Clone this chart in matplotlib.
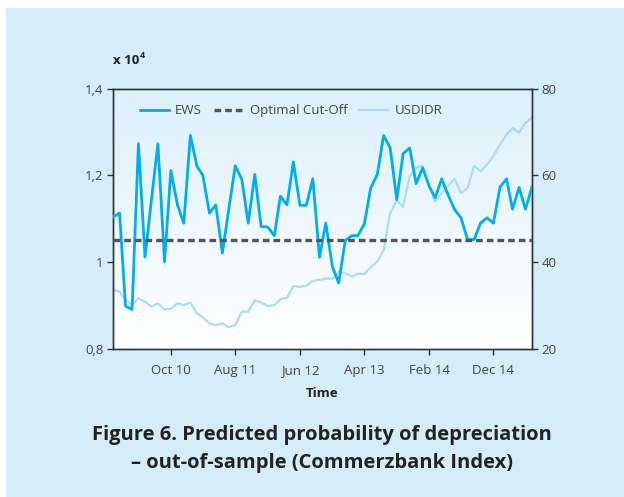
import numpy as np
import pandas as pd
import matplotlib
matplotlib.use("Agg")
import matplotlib.pyplot as plt
import matplotlib.dates as mdates
from matplotlib.patches import Rectangle
from matplotlib.colors import LinearSegmentedColormap

plt.rcParams['font.family'] = ['Open Sans', 'DejaVu Sans']

# monthly data, Jan 2010 - Jun 2015
months = pd.date_range("2010-01-01", "2015-06-01", freq="MS")

# EWS predicted probability (right axis, %)
ews = [50.4, 51.3, 29.9, 29.1, 67.3, 41.2, 54.2, 67.3, 40.1, 61.1,
       53.2, 49.0, 69.2, 62.1, 60.0, 51.3, 53.2, 42.1, 52.1, 62.2,
       59.0, 49.0, 60.2, 48.2, 48.1, 46.1, 55.2, 53.2, 63.1, 53.1,
       53.1, 59.2, 41.1, 49.0, 39.0, 35.2, 45.0, 46.1, 46.1, 48.8,
       57.1, 60.2, 69.2, 66.3, 54.4, 65.0, 66.3, 58.1, 61.7, 57.5,
       54.8, 59.2, 55.5, 52.1, 50.2, 45.2, 45.2, 49.0, 50.2, 49.0,
       57.3, 59.2, 52.2, 57.2, 52.2, 57.3]

# USD/IDR exchange rate (left axis, x 10^4)
usdidr = [0.936, 0.932, 0.913, 0.901, 0.917, 0.909, 0.898, 0.905, 0.891, 0.893,
          0.905, 0.901, 0.907, 0.882, 0.873, 0.859, 0.855, 0.859, 0.850, 0.855,
          0.886, 0.886, 0.912, 0.907, 0.899, 0.901, 0.915, 0.918, 0.945, 0.943,
          0.946, 0.957, 0.959, 0.962, 0.962, 0.978, 0.974, 0.967, 0.973, 0.973,
          0.988, 1.001, 1.028, 1.113, 1.142, 1.128, 1.198, 1.217, 1.222, 1.175,
          1.140, 1.159, 1.175, 1.192, 1.159, 1.171, 1.222, 1.209, 1.225, 1.244,
          1.271, 1.294, 1.309, 1.298, 1.321, 1.333]

cutoff = 45

left_ticks = [0.8, 1.0, 1.2, 1.4]
left_labels = ["0,8", "1", "1,2", "1,4"]
right_ticks = [20, 40, 60, 80]
tick_dates = pd.to_datetime(["2010-10-01", "2011-08-01", "2012-06-01",
                             "2013-04-01", "2014-02-01", "2014-12-01"])

panel = "#d5ecf9"
ink = "#444444"

fig = plt.figure(figsize=(6.24, 4.97), dpi=100)
fig.patch.set_facecolor("white")
fig.patches.append(Rectangle((6 / 624, 0), 1, 1 - 8 / 497, transform=fig.transFigure,
                             facecolor=panel, edgecolor="none", zorder=-10))

ax = fig.add_axes([113 / 624, 1 - 349 / 497, 419 / 624, 260.5 / 497])
ax.set_facecolor("none")

# gradient background of the plot area
grad = np.linspace(0, 1, 256).reshape(-1, 1)
cmap = LinearSegmentedColormap.from_list("bg", ["#ffffff", "#dcf0fb"])
ax.imshow(grad, cmap=cmap, aspect="auto", extent=[0, 1, 0, 1], origin="lower",
          transform=ax.transAxes, zorder=-5)

l3, = ax.plot(months, usdidr, color="#a9dcf5", lw=1.6, label="USDIDR", zorder=2)
ax.set_ylim(0.8, 1.4)
ax.set_yticks(left_ticks)
ax.set_yticklabels(left_labels)

ax2 = ax.twinx()
l1, = ax2.plot(months, ews, color="#00aeef", lw=2.0, label="EWS", zorder=3)
l2 = ax2.axhline(cutoff, color="#555555", lw=2.4, ls=(0, (2.0, 1.2)),
                 label="Optimal Cut-Off", zorder=4)
ax2.set_ylim(20, 80)
ax2.set_yticks(right_ticks)

ax.set_xlim(months[0], months[-1])
ax.set_xticks(tick_dates)
ax.xaxis.set_major_formatter(mdates.DateFormatter("%b %y"))
ax.set_xlabel("Time", fontsize=9.5, fontweight="bold", color="#222222", labelpad=7)

for a in (ax, ax2):
    for s in a.spines.values():
        s.set_color("#333333")
        s.set_linewidth(1.0)
    a.tick_params(direction="out", length=4, width=1.0, color="#333333",
                  labelcolor=ink, labelsize=9.5, pad=3)
ax.tick_params(axis="x", pad=7)

leg = ax2.legend(handles=[l1, l2, l3], loc="upper left", ncol=3, frameon=False,
                 fontsize=9.5, bbox_to_anchor=(0.035, 0.985), handlelength=2.2,
                 columnspacing=0.9, handletextpad=0.5, labelcolor=ink)

fig.text(113 / 624, 1 - 61 / 497, "x 10", fontsize=9.5, fontweight="bold",
         color="#222222", va="center")
fig.text(140 / 624, 1 - 55 / 497, "4", fontsize=6.5, fontweight="bold",
         color="#222222", va="center")

fig.text(322 / 624, 1 - 435 / 497, "Figure 6. Predicted probability of depreciation",
         fontsize=14.5, fontweight="bold", color="#222222", ha="center", va="center")
fig.text(322 / 624, 1 - 463 / 497, "\u2013 out-of-sample (Commerzbank Index)",
         fontsize=14.5, fontweight="bold", color="#222222", ha="center", va="center")

fig.savefig("out.png", dpi=100)
